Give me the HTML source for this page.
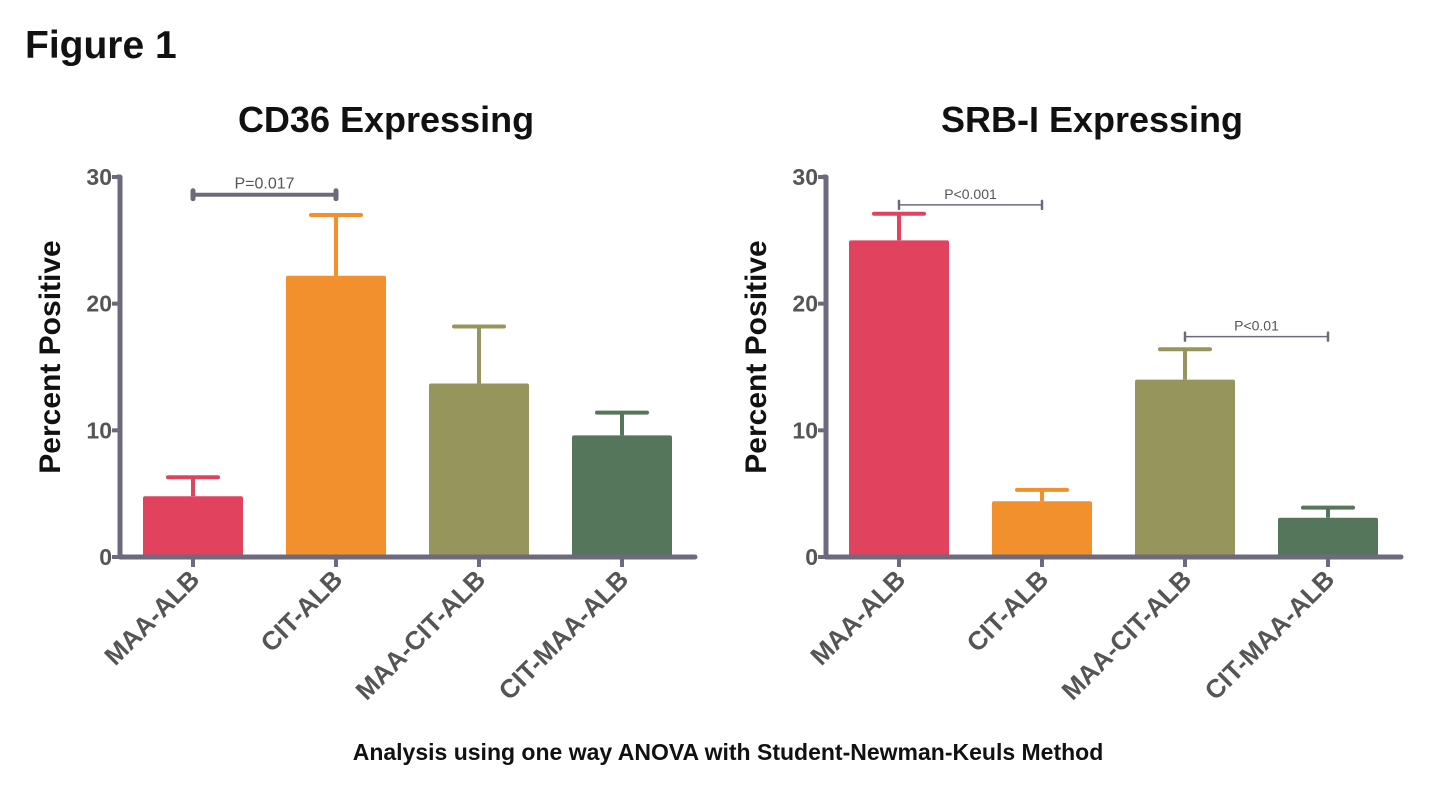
<!DOCTYPE html>
<html><head><meta charset="utf-8"><style>
body{margin:0;background:#fff;}
svg{display:block;font-family:"Liberation Sans",Arial,sans-serif;}
</style></head><body>
<svg id="fig" width="1429" height="788" viewBox="0 0 1429 788">
<text x="25" y="58" font-size="39" font-weight="bold" fill="#111">Figure 1</text>
<text x="728" y="760" font-size="23" font-weight="bold" fill="#111" text-anchor="middle">Analysis using one way ANOVA with Student-Newman-Keuls Method</text>
<g id="left"></g>
<g id="right"></g>
</svg>
<script>
const categories=["MAA-ALB","CIT-ALB","MAA-CIT-ALB","CIT-MAA-ALB"];
const cd36Values=[4.8,22.2,13.7,9.6];
const cd36Errors=[1.5,4.8,4.5,1.8];
const srbValues=[25.0,4.4,14.0,3.1];
const srbErrors=[2.1,0.9,2.4,0.8];
const yTicks=[0,10,20,30];
const colors=["#e1435f","#f1902c","#96955b","#55765a"];
const NS="http://www.w3.org/2000/svg";
const AX="#6e6a7e";
function mk(p,tag,at){const e=document.createElementNS(NS,tag);for(const k in at)e.setAttribute(k,at[k]);p.appendChild(e);return e;}
function chart(gid,x0,title,vals,errs,sigs){
  const g=document.getElementById(gid);
  const y0=557,yTop=177,xEnd=x0+575;
  const ys=v=>y0-(v/30)*(y0-yTop);
  const xc=i=>x0+73+i*143;
  const t=mk(g,'text',{x:x0+266,y:132,'font-size':36,'font-weight':'bold','text-anchor':'middle',fill:'#111'});
  t.textContent=title;
  
  
  const yt=mk(g,'text',{transform:`translate(${x0-60},357) rotate(-90)`,'font-size':30,'font-weight':'bold','text-anchor':'middle',fill:'#111'});
  yt.textContent='Percent Positive';
  
  
  vals.forEach((v,i)=>{
    const cx=xc(i);
    const eb=mk(g,'g',{});
    
    
    mk(eb,'line',{x1:cx,x2:cx,y1:ys(v),y2:ys(v+errs[i]),stroke:colors[i],'stroke-width':4});
    mk(eb,'line',{x1:cx-25,x2:cx+25,y1:ys(v+errs[i]),y2:ys(v+errs[i]),stroke:colors[i],'stroke-width':4,'stroke-linecap':'round'});
    const r=mk(g,'rect',{x:cx-50,y:ys(v),width:100,height:y0-ys(v),fill:colors[i],rx:2});
    
    
    mk(g,'line',{x1:cx,x2:cx,y1:y0,y2:y0+10,stroke:AX,'stroke-width':4});
    const l=mk(g,'text',{transform:`translate(${cx+8},${y0+24}) rotate(-45)`,'font-size':26,'font-weight':'bold','text-anchor':'end',fill:'#555'});
    l.textContent=categories[i];
    
    
  });
  yTicks.forEach(v=>{
    mk(g,'line',{x1:x0-8,x2:x0,y1:ys(v),y2:ys(v),stroke:AX,'stroke-width':4});
    const l=mk(g,'text',{x:x0-8,y:ys(v)+8,'font-size':23,'font-weight':'bold','text-anchor':'end',fill:'#555'});
    l.textContent=v;
    
    
  });
  const ax=mk(g,'path',{d:`M${x0-2} ${yTop} L${x0} ${yTop} L${x0} ${y0} L${xEnd} ${y0}`,fill:'none',stroke:AX,'stroke-width':5,'stroke-linejoin':'round','stroke-linecap':'round'});
  
  
  sigs.forEach(s=>{
    const sg=mk(g,'g',{});
    
    
    const x1=xc(s.a),x2=xc(s.b),y=ys(s.v);
    mk(sg,'line',{x1,x2,y1:y,y2:y,stroke:AX,'stroke-width':s.w});
    mk(sg,'line',{x1,x2:x1,y1:y-s.h,y2:y+s.h,stroke:AX,'stroke-width':s.w+1,'stroke-linecap':'round'});
    mk(sg,'line',{x1:x2,x2:x2,y1:y-s.h,y2:y+s.h,stroke:AX,'stroke-width':s.w+1,'stroke-linecap':'round'});
    const tx=mk(sg,'text',{x:(x1+x2)/2,y:y-6,'font-size':s.fs,'text-anchor':'middle',fill:'#555'});
    tx.textContent=s.t;
  });
}
chart('left',120,'CD36 Expressing',cd36Values,cd36Errors,[{a:0,b:1,v:28.6,t:'P=0.017',w:4,h:4,fs:16}]);
chart('right',826,'SRB-I Expressing',srbValues,srbErrors,[{a:0,b:1,v:27.8,t:'P<0.001',w:1.5,h:4,fs:14},{a:2,b:3,v:17.4,t:'P<0.01',w:1.5,h:4,fs:14}]);
</script>
</body></html>
